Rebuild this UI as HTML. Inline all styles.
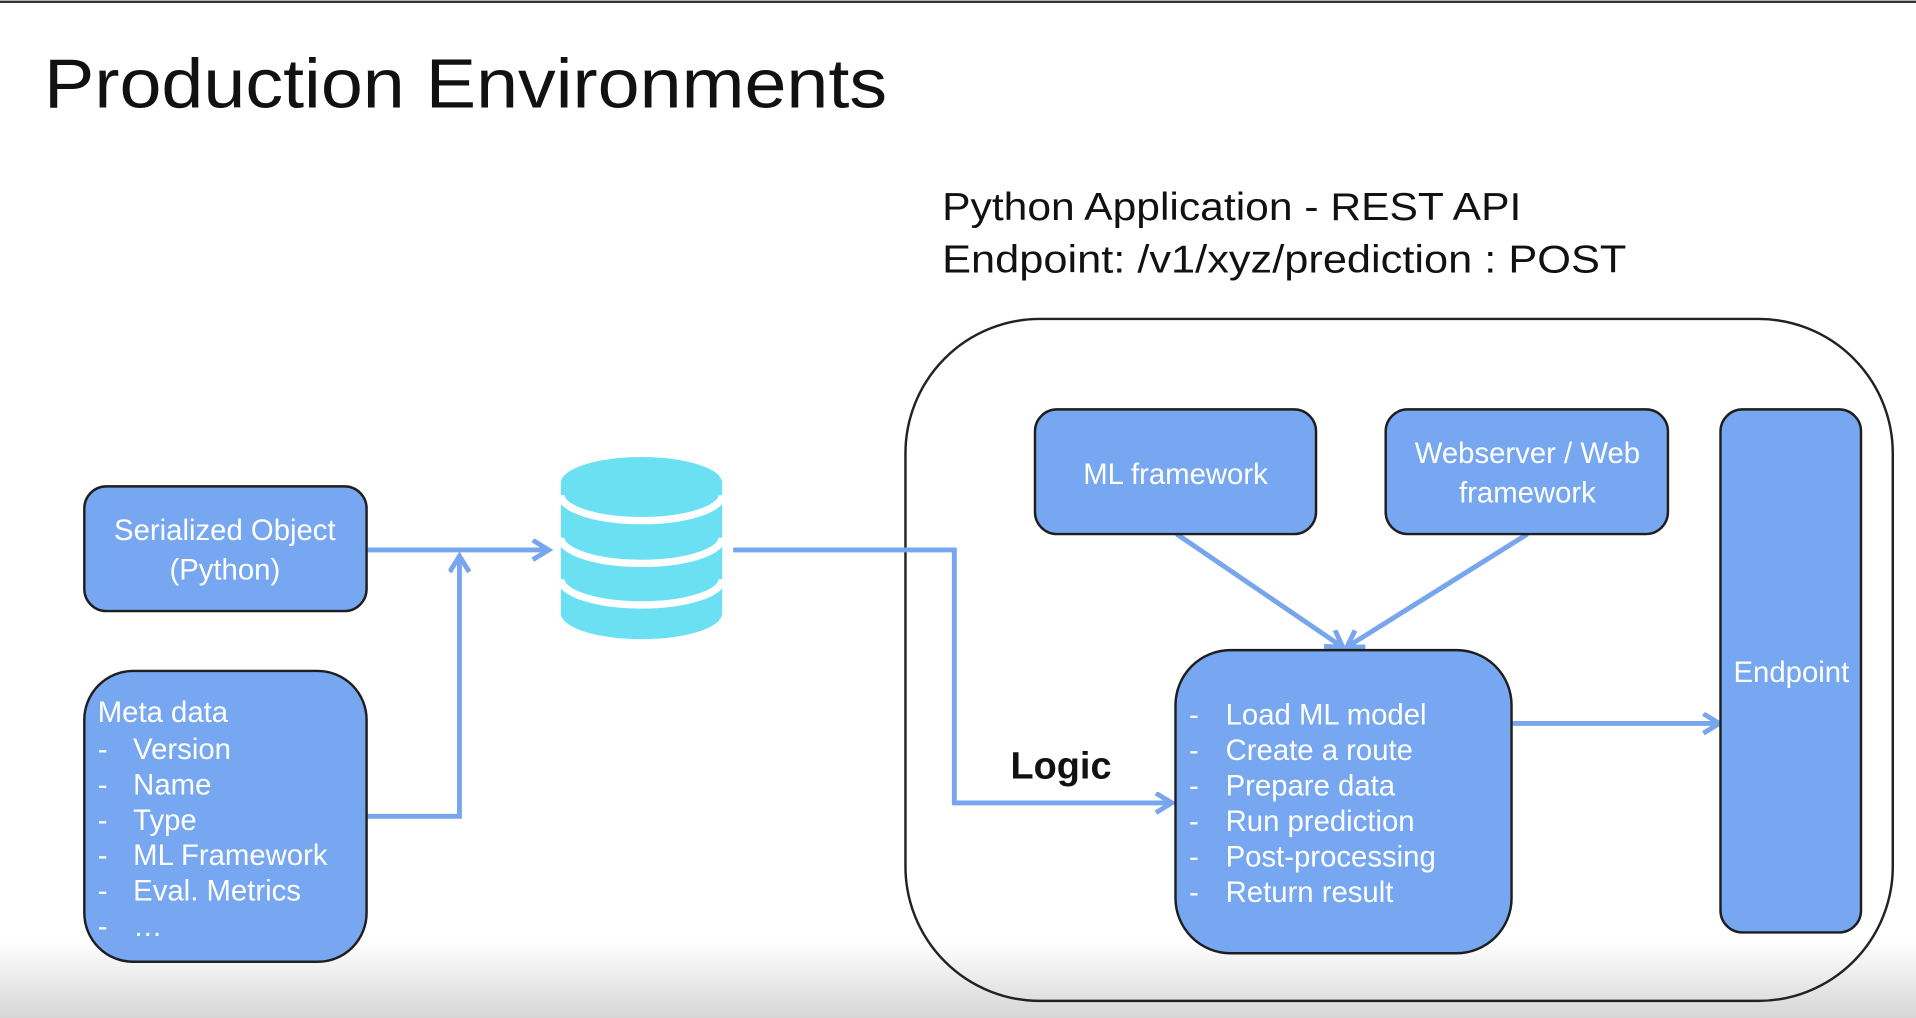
<!DOCTYPE html>
<html><head><meta charset="utf-8"><style>
html,body{margin:0;padding:0;background:#fff;overflow:hidden}
svg{display:block}
text{font-family:"Liberation Sans",sans-serif}
</style></head><body>
<svg width="1916" height="1018" viewBox="0 0 1568 833" preserveAspectRatio="none" xmlns="http://www.w3.org/2000/svg">
<defs>
<linearGradient id="bg" x1="0" y1="0" x2="0" y2="1">
<stop offset="0" stop-color="#ffffff"/><stop offset="1" stop-color="#d6d6d6"/>
</linearGradient>
<marker id="ah" markerWidth="20" markerHeight="20" refX="14" refY="9" orient="auto" markerUnits="userSpaceOnUse">
<path d="M2,1 L15,9 L2,17" fill="none" stroke="#78a6ee" stroke-width="4"/>
</marker>
</defs>
<rect x="0" y="0" width="1568" height="833" fill="#fff"/>
<rect x="0" y="770" width="1568" height="63" fill="url(#bg)"/>
<line x1="0" y1="1.5" x2="1568" y2="1.5" stroke="#333" stroke-width="2"/>
<text x="36" y="88" font-size="57" fill="#111" textLength="690" lengthAdjust="spacingAndGlyphs">Production Environments</text>
<text x="771" y="180" font-size="32" fill="#111" textLength="474" lengthAdjust="spacingAndGlyphs">Python Application - REST API</text>
<text x="771" y="223" font-size="32" fill="#111" textLength="560" lengthAdjust="spacingAndGlyphs">Endpoint: /v1/xyz/prediction : POST</text>

<rect x="741" y="261" width="808" height="558" rx="110" fill="none" stroke="#222" stroke-width="2"/>

<g stroke="#78a6ee" stroke-width="4" fill="none">
<line x1="301" y1="450" x2="448" y2="450" marker-end="url(#ah)"/>
<polyline points="301,668 376,668 376,456" marker-end="url(#ah)"/>
<polyline points="600,450 781,450 781,657 958,657" marker-end="url(#ah)"/>
<line x1="963" y1="437" x2="1098" y2="529" marker-end="url(#ah)"/>
<line x1="1250" y1="437" x2="1103" y2="529" marker-end="url(#ah)"/>
<line x1="1237" y1="592" x2="1406" y2="592" marker-end="url(#ah)"/>
</g>

<g fill="#76a7f0" stroke="#1e1e1e" stroke-width="2">
<rect x="69" y="398" width="231" height="102" rx="18"/>
<rect x="69" y="549" width="231" height="238" rx="40"/>
<rect x="847" y="335" width="230" height="102" rx="18"/>
<rect x="1134" y="335" width="231" height="102" rx="18"/>
<rect x="1408" y="335" width="115" height="428" rx="18"/>
<rect x="962" y="532" width="275" height="248" rx="45"/>
</g>

<g fill="#6be0f2">
<ellipse cx="525" cy="395" rx="66" ry="21"/>
<rect x="459" y="395" width="132" height="107"/>
<ellipse cx="525" cy="502" rx="66" ry="21"/>
</g>
<g fill="none" stroke="#fff" stroke-width="6">
<path d="M459,405 A66,21 0 0 0 591,405"/>
<path d="M459,440 A66,21 0 0 0 591,440"/>
<path d="M459,474 A66,21 0 0 0 591,474"/>
</g>

<g fill="#fff" font-size="24">
<text x="184" y="442" text-anchor="middle">Serialized Object</text>
<text x="184" y="474" text-anchor="middle">(Python)</text>
<text x="80" y="591">Meta data</text>
<text x="80" y="621">-</text><text x="109" y="621">Version</text>
<text x="80" y="650">-</text><text x="109" y="650">Name</text>
<text x="80" y="679">-</text><text x="109" y="679">Type</text>
<text x="80" y="708">-</text><text x="109" y="708">ML Framework</text>
<text x="80" y="737">-</text><text x="109" y="737">Eval. Metrics</text>
<text x="80" y="766">-</text><text x="109" y="766">…</text>
<text x="962" y="396" text-anchor="middle">ML framework</text>
<text x="1250" y="379" text-anchor="middle">Webserver / Web</text>
<text x="1250" y="411" text-anchor="middle">framework</text>
<text x="1466" y="558" text-anchor="middle">Endpoint</text>
<text x="973" y="593">-</text><text x="1003" y="593">Load ML model</text>
<text x="973" y="622">-</text><text x="1003" y="622">Create a route</text>
<text x="973" y="651">-</text><text x="1003" y="651">Prepare data</text>
<text x="973" y="680">-</text><text x="1003" y="680">Run prediction</text>
<text x="973" y="709">-</text><text x="1003" y="709">Post-processing</text>
<text x="973" y="738">-</text><text x="1003" y="738">Return result</text>
</g>
<text x="827" y="637" font-size="31" font-weight="bold" fill="#111">Logic</text>
</svg>
</body></html>
